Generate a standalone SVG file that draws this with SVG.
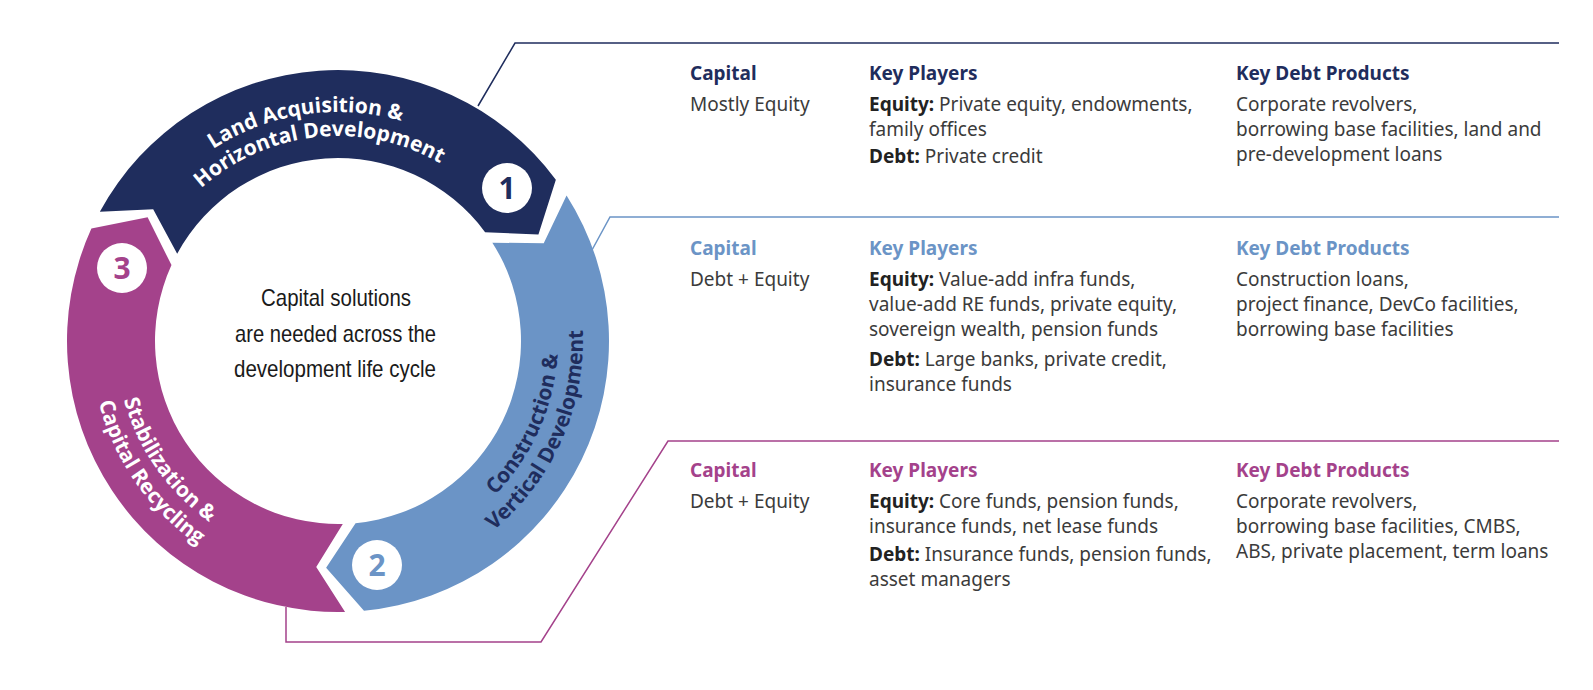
<svg xmlns="http://www.w3.org/2000/svg" width="1593" height="690" viewBox="0 0 1593 690">
<style>
.t{font-family:"Noto Sans",sans-serif;font-size:19px;fill:#3b3b3b}
.b{font-weight:700;fill:#222}
.h{font-family:"Noto Sans",sans-serif;font-size:19px;font-weight:700}
.navy{fill:#1f2d5d}
.blue{fill:#6b94c6}
.purp{fill:#a4428b}
.lbl{font-family:"Open Sans",sans-serif;font-weight:700;font-size:21px}
.num{font-family:"Open Sans",sans-serif;font-weight:700;font-size:30px;text-anchor:middle}
.ctr{font-family:"Liberation Sans",sans-serif;font-size:24px;fill:#1a1a1a}
.con{fill:none;stroke-width:1.5}
</style>
<defs>
<path id="arcTop229" d="M -229 0 A 229 229 0 0 1 229 0"/>
<path id="arcTop205" d="M -205 0 A 205 205 0 0 1 205 0"/>
<path id="arcR220" d="M 0 220 A 220 220 0 0 0 0 -220"/>
<path id="arcR245" d="M 0 245 A 245 245 0 0 0 0 -245"/>
<path id="arcR222" d="M 0 222 A 222 222 0 0 0 0 -222"/>
<path id="arcR247" d="M 0 247 A 247 247 0 0 0 0 -247"/>
</defs>

<g id="connectors">
<polyline class="con" stroke="#1f2d5d" points="478,106 515,43 1559,43"/>
<polyline class="con" stroke="#6b94c6" points="592,250 610,217 1559,217"/>
<polyline class="con" stroke="#a4428b" points="286,607 286,642 541,642 668,441 1559,441"/>
</g>

<g id="stage-1">
<path class="navy" d="M 99.84 211.69 A 271 271 0 0 1 555.85 179.80 L 538.43 234.43 L 485.11 232.15 A 183 183 0 0 0 177.18 253.68 L 153.19 209.18 Z"/>
<text class="lbl" fill="#fff" transform="translate(338 341) rotate(-8.5)"><textPath href="#arcTop229" startOffset="50%" text-anchor="middle">Land Acquisition &amp;</textPath></text>
<text class="lbl" fill="#fff" transform="translate(338 341) rotate(-6)"><textPath href="#arcTop205" startOffset="50%" text-anchor="middle">Horizontal Development</textPath></text>
<circle cx="507" cy="188" r="25" fill="#fff"/>
<text class="num navy" x="507" y="198.5">1</text>
</g>

<g id="stage-2">
<path class="blue" d="M 566.56 195.39 A 271 271 0 0 1 363.98 610.75 L 326.12 567.69 L 355.54 523.16 A 183 183 0 0 0 492.34 242.67 L 543.73 243.27 Z"/>
<text class="lbl" fill="#1f2d5d" transform="translate(338 341) rotate(24)"><textPath href="#arcR220" startOffset="50%" text-anchor="middle">Construction &amp;</textPath></text>
<text class="lbl" fill="#1f2d5d" transform="translate(338 341) rotate(24)"><textPath href="#arcR245" startOffset="50%" text-anchor="middle">Vertical Development</textPath></text>
<circle cx="377" cy="565" r="25" fill="#fff"/>
<text class="num blue" x="377" y="575.5">2</text>
</g>

<g id="stage-3">
<path class="purp" d="M 345.09 611.91 A 271 271 0 0 1 91.40 228.62 L 147.62 217.37 L 171.48 265.11 A 183 183 0 0 0 342.79 523.94 L 316.24 566.96 Z"/>
<text class="lbl" fill="#fff" transform="translate(338 341) rotate(145)"><textPath href="#arcR222" startOffset="50%" text-anchor="middle">Stabilization &amp;</textPath></text>
<text class="lbl" fill="#fff" transform="translate(338 341) rotate(145)"><textPath href="#arcR247" startOffset="50%" text-anchor="middle">Capital Recycling</textPath></text>
<circle cx="122" cy="268" r="25" fill="#fff"/>
<text class="num purp" x="122" y="278.5">3</text>
</g>

<g id="center-text">
<text class="ctr" x="261" y="306" textLength="150" lengthAdjust="spacingAndGlyphs">Capital solutions</text>
<text class="ctr" x="235" y="341.5" textLength="201" lengthAdjust="spacingAndGlyphs">are needed across the</text>
<text class="ctr" x="234" y="377" textLength="202" lengthAdjust="spacingAndGlyphs">development life cycle</text>
</g>

<g id="panel-1">
<text class="h navy" x="690" y="80">Capital</text>
<text class="t" x="690" y="111">Mostly Equity</text>
<text class="h navy" x="869" y="80">Key Players</text>
<text class="t" x="869" y="111"><tspan class="b">Equity:</tspan> Private equity, endowments,</text>
<text class="t" x="869" y="136">family offices</text>
<text class="t" x="869" y="163"><tspan class="b">Debt:</tspan> Private credit</text>
<text class="h navy" x="1236" y="80">Key Debt Products</text>
<text class="t" x="1236" y="111">Corporate revolvers,</text>
<text class="t" x="1236" y="136">borrowing base facilities, land and</text>
<text class="t" x="1236" y="161">pre-development loans</text>
</g>

<g id="panel-2">
<text class="h blue" x="690" y="255">Capital</text>
<text class="t" x="690" y="286">Debt + Equity</text>
<text class="h blue" x="869" y="255">Key Players</text>
<text class="t" x="869" y="286"><tspan class="b">Equity:</tspan> Value-add infra funds,</text>
<text class="t" x="869" y="311">value-add RE funds, private equity,</text>
<text class="t" x="869" y="336">sovereign wealth, pension funds</text>
<text class="t" x="869" y="366"><tspan class="b">Debt:</tspan> Large banks, private credit,</text>
<text class="t" x="869" y="391">insurance funds</text>
<text class="h blue" x="1236" y="255">Key Debt Products</text>
<text class="t" x="1236" y="286">Construction loans,</text>
<text class="t" x="1236" y="311">project finance, DevCo facilities,</text>
<text class="t" x="1236" y="336">borrowing base facilities</text>
</g>

<g id="panel-3">
<text class="h purp" x="690" y="477">Capital</text>
<text class="t" x="690" y="508">Debt + Equity</text>
<text class="h purp" x="869" y="477">Key Players</text>
<text class="t" x="869" y="508"><tspan class="b">Equity:</tspan> Core funds, pension funds,</text>
<text class="t" x="869" y="533">insurance funds, net lease funds</text>
<text class="t" x="869" y="561"><tspan class="b">Debt:</tspan> Insurance funds, pension funds,</text>
<text class="t" x="869" y="586">asset managers</text>
<text class="h purp" x="1236" y="477">Key Debt Products</text>
<text class="t" x="1236" y="508">Corporate revolvers,</text>
<text class="t" x="1236" y="533">borrowing base facilities, CMBS,</text>
<text class="t" x="1236" y="558">ABS, private placement, term loans</text>
</g>
</svg>
